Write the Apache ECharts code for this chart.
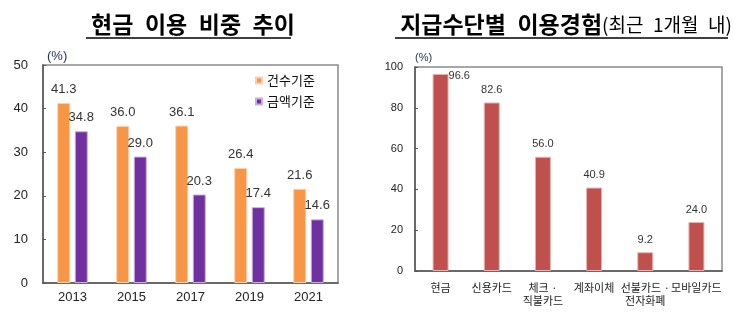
<!DOCTYPE html>
<html>
<head>
<meta charset="utf-8">
<script src="https://cdn.jsdelivr.net/npm/echarts@6/dist/echarts.min.js"></script>
<style>
html,body{margin:0;padding:0;background:#fff;}
#c{width:746px;height:322px;}
</style>
</head>
<body>
<div id="c"></div>
<script>
// ---- data ----
var years = ['2013', '2015', '2017', '2019', '2021'];
var countBasis = [41.3, 36.0, 36.1, 26.4, 21.6];   // 건수기준
var amountBasis = [34.8, 29.0, 20.3, 17.4, 14.6];  // 금액기준
var leftTicks = [0, 10, 20, 30, 40, 50];

var methods = ['현금', '신용카드', '체크 ·\n직불카드', '계좌이체', '선불카드 ·\n전자화폐', '모바일카드'];
var usage = [96.6, 82.6, 56.0, 40.9, 9.2, 24.0];
var rightTicks = [0, 20, 40, 60, 80, 100];

var NUM = '"Liberation Sans", Arial, sans-serif';
var KR = '"Noto Sans CJK KR", "Noto Sans", sans-serif';
var fmt = function (p) { return Number(p.value).toFixed(1); };

var chart = echarts.init(document.getElementById('c'), null, {renderer: 'canvas'});

var usageData = usage.map(function (v, i) {
  if (i === 0) {
    return {value: v, label: {position: ['100%', -3]}};
  }
  return v;
});

var option = {
  animation: false,
  backgroundColor: '#fff',
  title: [
    {
      text: '현금\u2002이용\u2002비중\u2002추이',
      left: 188, textAlign: 'center', top: 8,
      textStyle: {fontFamily: KR, fontSize: 23, fontWeight: 'bold', color: '#000'}
    },
    {
      text: '{b|지급수단별\u2002이용경험}{n|(최근\u20021개월\u2002내)}',
      left: 561, textAlign: 'center', top: 8,
      textStyle: {
        rich: {
          b: {fontFamily: KR, fontSize: 23, fontWeight: 'bold', color: '#000'},
          n: {fontFamily: KR, fontSize: 19, fontWeight: 'normal', color: '#000'}
        }
      }
    }
  ],
  graphic: [
    {type: 'line', shape: {x1: 86, y1: 38, x2: 291, y2: 38}, style: {stroke: '#000', lineWidth: 1.5}},
    {type: 'line', shape: {x1: 395, y1: 38, x2: 728, y2: 38}, style: {stroke: '#000', lineWidth: 1.5}}
  ],
  legend: {
    data: ['건수기준', '금액기준'],
    orient: 'vertical',
    left: 250, top: 69,
    icon: 'rect', itemWidth: 6, itemHeight: 6, itemGap: 8,
    textStyle: {fontFamily: KR, fontSize: 13, color: '#111'}
  },
  grid: [
    {left: 43, right: 408, top: 65, bottom: 39, show: true, borderColor: '#8a8a8a', borderWidth: 1.5},
    {left: 415, right: 24, top: 67, bottom: 51, show: true, borderColor: '#8a8a8a', borderWidth: 1.5}
  ],
  xAxis: [
    {
      type: 'category', gridIndex: 0, data: years,
      axisLine: {lineStyle: {color: '#555', width: 1.5}},
      axisTick: {inside: true, length: 3, lineStyle: {color: '#555'}},
      axisLabel: {fontFamily: NUM, fontSize: 13, color: '#222', margin: 8}
    },
    {
      type: 'category', gridIndex: 1, data: methods,
      axisLine: {lineStyle: {color: '#555', width: 1.5}},
      axisTick: {inside: true, length: 3, lineStyle: {color: '#555'}},
      axisLabel: {fontFamily: KR, fontSize: 11, color: '#222', margin: 10, lineHeight: 13, interval: 0}
    }
  ],
  yAxis: [
    {
      type: 'value', gridIndex: 0, min: leftTicks[0], max: leftTicks[leftTicks.length - 1], interval: 10,
      name: '(%)', nameLocation: 'end', nameGap: 2,
      nameTextStyle: {fontFamily: NUM, fontSize: 13, color: '#1f2d4d', align: 'left', padding: [0, 0, 0, 4]},
      axisLine: {show: true, lineStyle: {color: '#555', width: 1.5}},
      axisTick: {show: true, inside: true, length: 3, lineStyle: {color: '#555'}},
      splitLine: {show: false},
      axisLabel: {fontFamily: NUM, fontSize: 13, color: '#222', margin: 15}
    },
    {
      type: 'value', gridIndex: 1, min: rightTicks[0], max: rightTicks[rightTicks.length - 1], interval: 20,
      name: '(%)', nameLocation: 'end', nameGap: 4,
      nameTextStyle: {fontFamily: NUM, fontSize: 11, color: '#1f2d4d', align: 'left', padding: [0, 0, 0, 0]},
      axisLine: {show: true, lineStyle: {color: '#555', width: 1.5}},
      axisTick: {show: true, inside: true, length: 3, lineStyle: {color: '#555'}},
      splitLine: {show: false},
      axisLabel: {fontFamily: NUM, fontSize: 11, color: '#222', margin: 12}
    }
  ],
  series: [
    {
      name: '건수기준', type: 'bar', xAxisIndex: 0, yAxisIndex: 0,
      data: countBasis, barWidth: 13, barGap: '35%',
      itemStyle: {color: '#F79646', borderColor: '#FBD0AE', borderWidth: 1},
      label: {show: true, position: 'top', distance: 7, formatter: fmt,
        fontFamily: NUM, fontSize: 13, color: '#333'}
    },
    {
      name: '금액기준', type: 'bar', xAxisIndex: 0, yAxisIndex: 0,
      data: amountBasis, barWidth: 13, barGap: '35%',
      itemStyle: {color: '#7030A0', borderColor: '#C8B0DC', borderWidth: 1},
      label: {show: true, position: 'top', distance: 7, formatter: fmt,
        fontFamily: NUM, fontSize: 13, color: '#333'}
    },
    {
      name: '이용경험', type: 'bar', xAxisIndex: 1, yAxisIndex: 1,
      data: usageData, barWidth: 16,
      itemStyle: {color: '#C0504D', borderColor: '#E4B4B3', borderWidth: 1},
      label: {show: true, position: 'top', distance: 7, formatter: fmt,
        fontFamily: NUM, fontSize: 11, color: '#333'}
    }
  ]
};
chart.setOption(option);
</script>
</body>
</html>
